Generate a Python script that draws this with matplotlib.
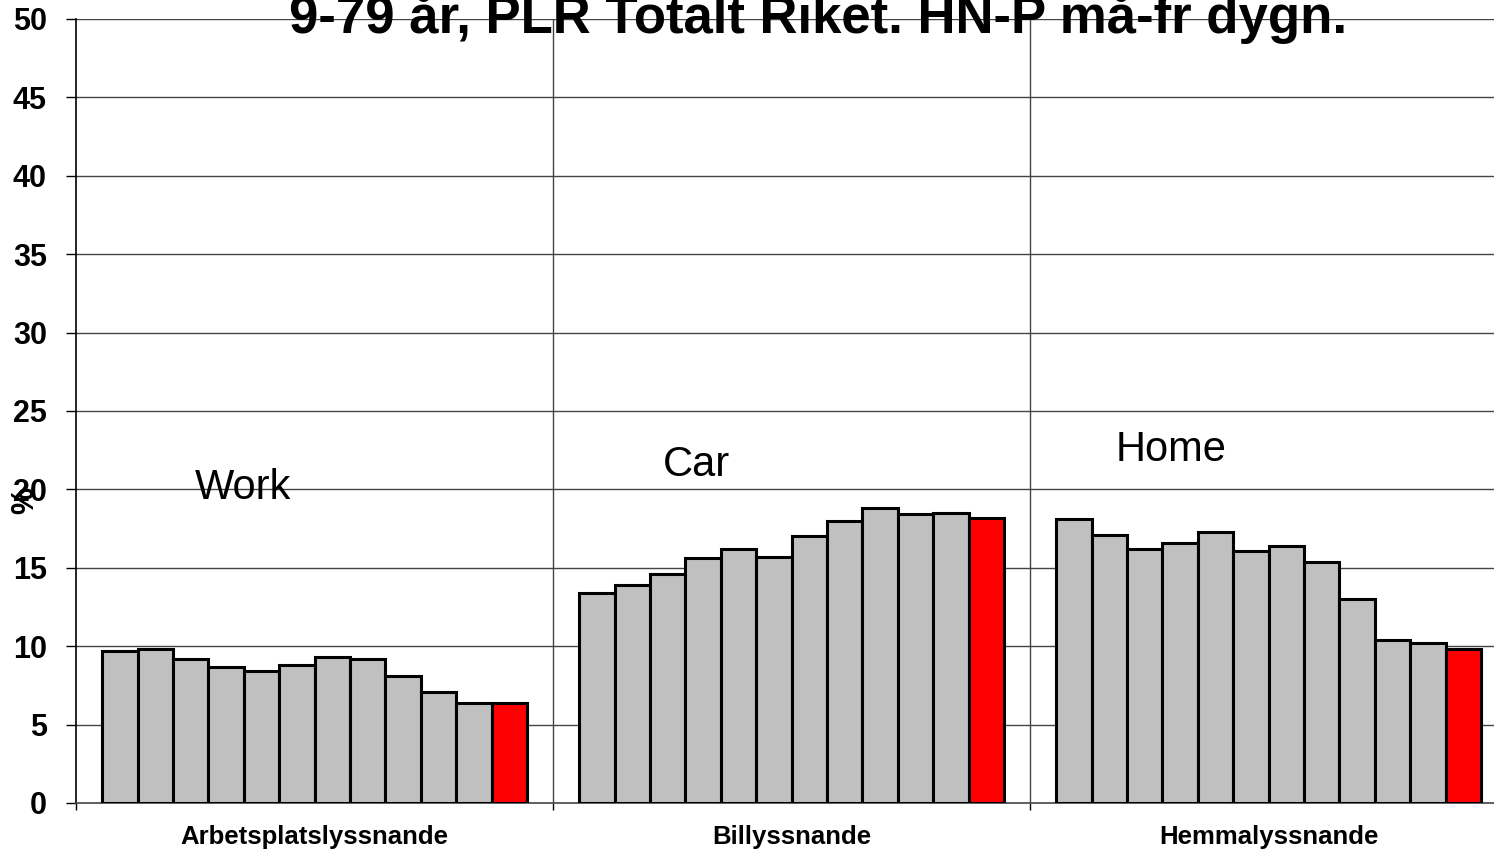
import matplotlib
matplotlib.use("Agg")
import matplotlib.pyplot as plt
import numpy as np

plt.rcParams['font.family'] = ['Liberation Sans', 'DejaVu Sans']

categories = ["Arbetsplatslyssnande", "Billyssnande", "Hemmalyssnande"]
work = [9.7, 9.8, 9.2, 8.7, 8.4, 8.8, 9.3, 9.2, 8.1, 7.1, 6.4, 6.4]
car = [13.4, 13.9, 14.6, 15.6, 16.2, 15.7, 17.0, 18.0, 18.8, 18.4, 18.5, 18.2]
home = [18.1, 17.1, 16.2, 16.6, 17.3, 16.1, 16.4, 15.4, 13.0, 10.4, 10.2, 9.8]
series = [work, car, home]
annotations = ["Work", "Car", "Home"]
title = "9-79 år, PLR Totalt Riket. HN-P må-fr dygn."
yticks = [0, 5, 10, 15, 20, 25, 30, 35, 40, 45, 50]

W, H = 1494, 850
fig = plt.figure(figsize=(W / 100, H / 100), dpi=100)
ax = fig.add_axes([76 / W, 47 / H, 1431 / W, (803 - 19) / H])

nbars = len(work)
bw = 35.4 / 477
for ci, vals in enumerate(series):
    for i, v in enumerate(vals):
        color = '#FF0000' if i == nbars - 1 else '#C0C0C0'
        x = ci + (i - (nbars - 1) / 2) * bw
        ax.bar(x, v, width=bw, color=color, edgecolor='black', linewidth=2.2, zorder=3)

ax.set_xlim(-0.5, 2.5)
ax.set_ylim(0, 50)
ax.set_yticks(yticks)
ax.set_yticklabels([str(t) for t in yticks], fontsize=22, fontweight='bold')
ax.tick_params(axis='y', direction='out', length=7, width=1, pad=14)

ax.set_xticks([0, 1, 2])
ax.set_xticklabels(categories, fontsize=18.5, fontweight='bold')
ax.set_xticks([-0.5, 0.5, 1.5, 2.5], minor=True)
ax.tick_params(axis='x', which='major', length=0, pad=16)
ax.tick_params(axis='x', which='minor', direction='out', length=5, width=1)

for y in yticks[1:]:
    ax.axhline(y, color='#444444', linewidth=1, zorder=1)
for xb in [0.5, 1.5]:
    ax.axvline(xb, color='#444444', linewidth=1, zorder=1)

for s in ['top', 'right']:
    ax.spines[s].set_visible(False)
ax.spines['left'].set_linewidth(1.2)
ax.spines['bottom'].set_color('#444444')
ax.spines['bottom'].set_linewidth(1.2)

# annotations
ann_pos = [(-0.25, 19.4), (0.73, 20.85), (1.68, 21.8)]
for txt, (x, y) in zip(annotations, ann_pos):
    ax.text(x, y, txt, fontsize=30, ha='left', va='baseline', zorder=4)

fig.text(25 / W, 1 - 500 / H, "%", rotation=90, fontsize=22, fontweight='bold',
         ha='center', va='center')

fig.text(818 / W, 1 - 33 / H, title, fontsize=38, fontweight='bold',
         ha='center', va='baseline')

fig.savefig("out.png", dpi=100)
